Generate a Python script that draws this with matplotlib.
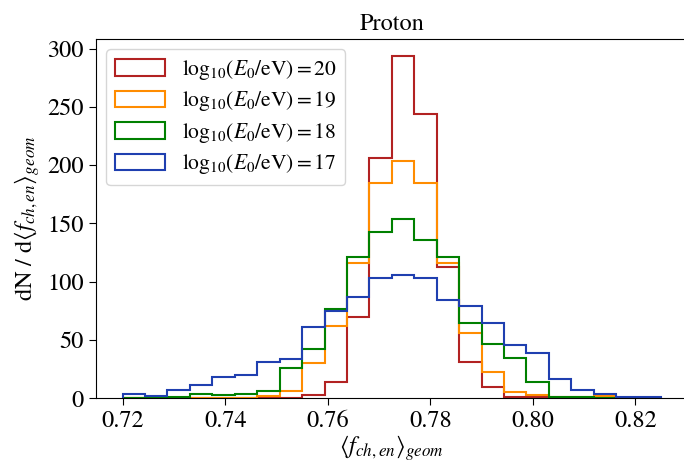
import numpy as np
import matplotlib
matplotlib.use('Agg')
from matplotlib import pyplot as plt

# Bin edges of the <f_ch,en>_geom histograms
bin_lo = 0.72
bin_hi = 0.825
n_bins = 24

# Heights, one value per bin
energies = [20, 19, 18, 17]
vals_e20 = [0, 0, 0, 0, 0, 0, 0, 0, 2.5, 14, 70, 206, 294, 244, 113, 31, 10, 1.5, 1, 0.5, 0.5, 0.5, 0, 0]
vals_e19 = [0, 0, 0, 0, 0, 0, 2, 6, 30, 62, 116, 185, 204, 185, 116, 56, 23, 5, 3, 1, 1, 2, 0.5, 0]
vals_e18 = [0, 0, 1, 4, 3, 4, 6.5, 26, 42, 77, 121, 143, 154, 136, 121, 65, 47, 35, 14, 1.5, 1, 0.5, 0.5, 0]
vals_e17 = [3.4, 2, 7.4, 11.4, 18.6, 19.7, 31.4, 33.4, 61.4, 75, 87, 103, 106, 103, 84, 79, 65, 46, 38.6, 17, 7, 3.4, 1.5, 1]
colors = ['firebrick', 'darkorange', 'green', '#1f3fb0']

plt.rcParams['font.family'] = 'STIXGeneral'
plt.rcParams['mathtext.fontset'] = 'stix'

edges = np.linspace(bin_lo, bin_hi, n_bins + 1)
centers = 0.5 * (edges[:-1] + edges[1:])

fig = plt.figure(figsize=(6.84, 4.65), dpi=100)
# right spine sits just outside the canvas, as in the reference
ax = fig.add_axes([0.1399, 0.1434, 0.866, 0.7738])

for e, vals, c in zip(energies, [vals_e20, vals_e19, vals_e18, vals_e17], colors):
    ax.hist(centers, bins=edges, weights=vals, histtype='step', color=c, lw=1.5,
            label=r'$\mathrm{log}_{10}(E_0/\mathrm{eV})=%d$' % e)

ax.set_ylim(bottom=0)
ax.set_xticks([0.72, 0.74, 0.76, 0.78, 0.80, 0.82])
ax.set_yticks([0, 50, 100, 150, 200, 250, 300])
ax.tick_params(labelsize=17.5, length=5)
ax.set_title('Proton', fontsize=17.5)
ax.set_xlabel(r'$\langle f_{ch,en}\rangle_{geom}$', fontsize=17.5, labelpad=1)
ax.set_ylabel(r'dN / d$\langle f_{ch,en}\rangle_{geom}$', fontsize=17.5)
ax.legend(loc='upper left', fontsize=15.5, handlelength=2.3, handleheight=0.8,
          labelspacing=0.35)

plt.savefig('out.png', dpi=100)
